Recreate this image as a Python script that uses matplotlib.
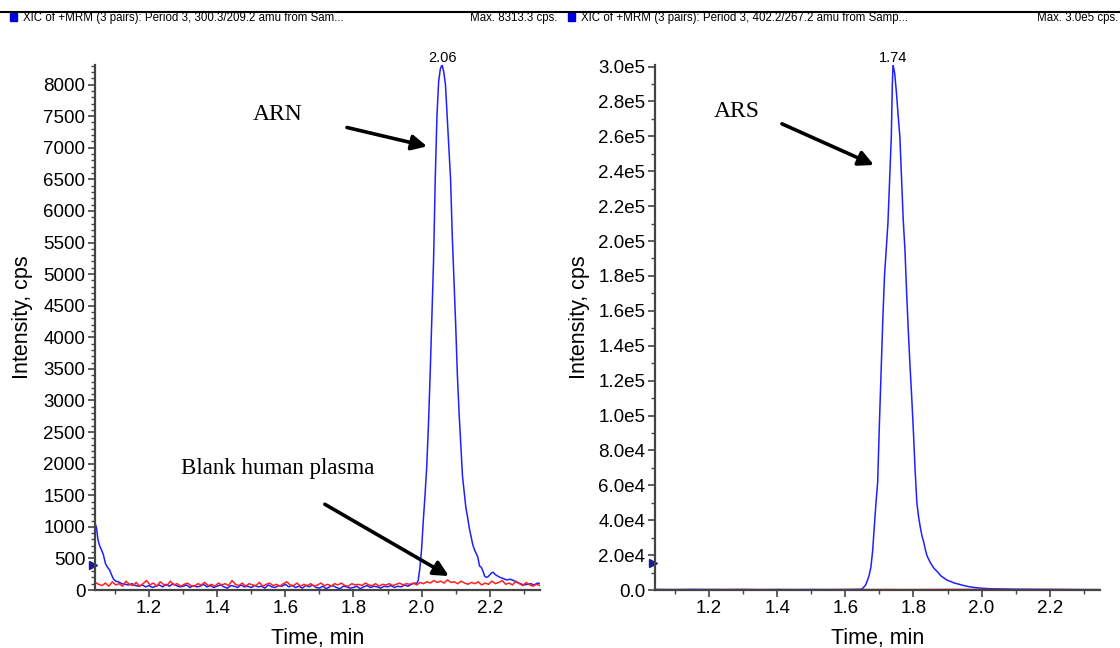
import numpy as np
import matplotlib
matplotlib.use('Agg')
from matplotlib import pyplot as plt
from matplotlib.ticker import MultipleLocator, FuncFormatter
from matplotlib.patches import Rectangle
from matplotlib.lines import Line2D
import matplotlib.transforms as mtrans

plt.rcParams['font.family'] = ['Liberation Sans', 'DejaVu Sans']

# ---- left panel: ARN (300.3/209.2) ----
arn_decay_t = [1.042, 1.046, 1.050, 1.055, 1.060, 1.066, 1.072, 1.078, 1.084, 1.090, 1.096, 1.102, 1.110]
arn_decay_v = [1050, 980, 800, 700, 640, 560, 420, 360, 320, 240, 170, 140, 130]
arn_base_v = [100, 90, 80, 100, 70, 60, 80, 50,
              70, 40, 60, 80, 50, 90, 60, 100, 70, 50,
              60, 80, 40, 70, 50, 60, 90, 50, 70, 40,
              60, 80, 50, 30, 70, 60, 40, 80, 50, 60,
              40, 70, 50, 60, 30, 80, 50, 40, 70, 60,
              90, 50, 70, 40, 60, 30, 70, 50, 80, 40,
              30, 60, 20, 50, 70, 40, 20, 60, 50, 30,
              40, 60, 20, 50, 70, 40, 60, 50, 30, 60,
              50, 70, 40, 60, 50, 80, 60, 90, 110]
arn_peak_t = [1.985, 1.990, 1.995, 2.000, 2.005, 2.010, 2.015, 2.020, 2.025, 2.030,
              2.035, 2.040, 2.045, 2.050, 2.055, 2.060, 2.065, 2.070, 2.075, 2.080,
              2.085, 2.090, 2.095, 2.100, 2.105, 2.110, 2.115, 2.120, 2.125, 2.130,
              2.135, 2.140, 2.145, 2.150, 2.155, 2.160, 2.165, 2.170, 2.175, 2.180,
              2.185, 2.190, 2.195, 2.200, 2.205, 2.210, 2.215, 2.220, 2.230, 2.240,
              2.250, 2.260, 2.270, 2.280, 2.290, 2.300, 2.310, 2.320, 2.330, 2.340, 2.347]
arn_peak_v = [100, 150, 350, 650, 1100, 1500, 1950, 2600, 3400, 4300,
              5200, 6500, 7500, 8050, 8250, 8313, 8200, 8000, 7500, 7000,
              6500, 5600, 4900, 4200, 3400, 2800, 2300, 1800, 1550, 1300,
              1150, 980, 850, 720, 640, 580, 520, 380, 360, 300,
              220, 200, 210, 240, 270, 280, 250, 230, 200, 180,
              160, 170, 150, 120, 100, 80, 90, 100, 80, 110, 100]
blank_left_v = [120, 90, 70, 110, 60, 130, 80, 100, 60, 140, 90,
                70, 120, 60, 100, 150, 80, 110, 60, 130, 90,
                70, 140, 80, 100, 60, 90, 110, 70, 60, 100,
                80, 120, 70, 90, 60, 110, 80, 100, 70, 150,
                90, 70, 110, 60, 100, 80, 70, 120, 60, 90,
                110, 70, 90, 60, 100, 130, 80, 70, 110, 60,
                90, 70, 100, 60, 80, 110, 70, 90, 60, 100,
                80, 110, 70, 60, 100, 80, 90, 70, 110, 80,
                70, 100, 60, 90, 80, 100, 70, 90, 110, 80,
                100, 90, 110, 80, 120, 100, 130, 110, 150, 120,
                140, 110, 160, 120, 130, 100, 140, 110, 90, 120,
                100, 130, 80, 110, 90, 140, 100, 120, 150, 90,
                110, 80, 140, 100, 70, 120, 80, 60, 90, 70]

# ---- right panel: ARS (402.2/267.2) ----
ars_t = [1.042, 1.10, 1.15, 1.20, 1.25, 1.30, 1.35, 1.40, 1.45, 1.50, 1.55, 1.60, 1.645,
         1.650, 1.655, 1.660, 1.665, 1.670, 1.675, 1.680, 1.685, 1.690, 1.695,
         1.700, 1.705, 1.710, 1.715, 1.720, 1.725, 1.730, 1.735, 1.738, 1.740,
         1.745, 1.750, 1.755, 1.760, 1.765, 1.770, 1.775, 1.780, 1.785, 1.790,
         1.795, 1.800, 1.805, 1.810, 1.815, 1.820, 1.825, 1.830, 1.835, 1.840,
         1.845, 1.850, 1.855, 1.860, 1.870, 1.880, 1.890, 1.900, 1.910, 1.920,
         1.930, 1.945, 1.960, 1.980, 2.000, 2.030, 2.060, 2.100, 2.150, 2.200,
         2.250, 2.300, 2.347]
ars_v = [300, 250, 350, 300, 250, 300, 200, 300, 250, 300, 250, 300, 400,
         800, 1800, 3000, 5500, 8500, 13000, 22000, 36000, 50000, 62000,
         95000, 125000, 155000, 180000, 195000, 210000, 235000, 260000, 290000, 301000,
         296000, 285000, 272000, 260000, 236000, 212000, 195000, 170000, 148000, 128000,
         110000, 90000, 68000, 50000, 42000, 36000, 31000, 27500, 23000, 19500,
         17500, 15500, 14000, 12500, 10500, 8200, 6800, 5500, 4800, 4000,
         3500, 2700, 2000, 1400, 1000, 700, 600, 450, 400, 350,
         300, 250, 200]
blank_right_t = [1.042, 1.15, 1.30, 1.45, 1.60, 1.70, 1.80, 1.90, 2.00, 2.10, 2.20, 2.30, 2.347]
blank_right_v = [200, 150, 250, 150, 200, 300, 250, 350, 300, 200, 250, 150, 200]

arn_t = np.concatenate([arn_decay_t, np.linspace(1.12, 1.98, len(arn_base_v)), arn_peak_t])
arn_v = np.concatenate([arn_decay_v, arn_base_v, arn_peak_v])
blank_left_t = np.linspace(1.042, 2.347, len(blank_left_v))

BLUE = '#1f1fff'
RED = '#ff2020'
SPINE = '#444444'

fig = plt.figure(figsize=(11.2, 6.48), dpi=100)
axL = fig.add_axes([0.085, 0.0895, 0.397, 0.8105])
axR = fig.add_axes([0.585, 0.0895, 0.397, 0.8105])


def style_axis(ax):
    for s in ['top', 'right']:
        ax.spines[s].set_visible(False)
    for s in ['left', 'bottom']:
        ax.spines[s].set_color(SPINE)
        ax.spines[s].set_linewidth(1.6)
    ax.set_xlim(1.042, 2.347)
    ax.xaxis.set_major_locator(MultipleLocator(0.2))
    ax.xaxis.set_minor_locator(MultipleLocator(0.1))
    ax.xaxis.set_major_formatter(FuncFormatter(lambda v, p: f'{v:.1f}'))
    ax.tick_params(which='major', length=5, width=1.2, color=SPINE, labelsize=13.5, pad=2)
    ax.tick_params(which='minor', length=3, width=1.0, color=SPINE)
    ax.set_xlabel('Time, min', fontsize=15.5, va='top')
    ax.xaxis.set_label_coords(0.5, -0.072)
    ax.set_ylabel('Intensity, cps', fontsize=15.5)


# left
style_axis(axL)
axL.plot(arn_t, arn_v, color=BLUE, lw=1.1)
axL.plot(blank_left_t, blank_left_v, color=RED, lw=1.1)
axL.set_ylim(0, 8313.3)
axL.yaxis.set_major_locator(MultipleLocator(500))
axL.yaxis.set_minor_locator(MultipleLocator(100))
axL.yaxis.set_label_coords(-0.139, 0.52)
axL.annotate('2.06', xy=(2.06, 8313.3), xytext=(0, 0), textcoords='offset points',
             ha='center', va='bottom', fontsize=10.5, annotation_clip=False)

arrow = dict(arrowstyle='-|>,head_length=0.9,head_width=0.45', lw=2.6, color='black',
             shrinkA=0, shrinkB=0)
serif = ['Liberation Serif', 'DejaVu Serif']
axL.text(1.576, 7527, 'ARN', fontsize=17, family=serif, ha='center', va='center')
axL.annotate('', xy=(2.016, 7022), xytext=(1.781, 7321), arrowprops=arrow)
axL.text(1.579, 1925, 'Blank human plasma', fontsize=16.5, family=serif, ha='center', va='center')
axL.annotate('', xy=(2.080, 221), xytext=(1.716, 1357), arrowprops=arrow)

# right
style_axis(axR)
axR.plot(ars_t, ars_v, color=BLUE, lw=1.1)
axR.plot(blank_right_t, blank_right_v, color=RED, lw=1.1)
axR.set_ylim(0, 3.01e5)
axR.yaxis.set_major_locator(MultipleLocator(2e4))
axR.yaxis.set_minor_locator(MultipleLocator(1e4))


def sci(v, p):
    if v == 0:
        return '0.0'
    e = int(np.floor(np.log10(abs(v)) + 1e-9))
    return f'{v / 10**e:.1f}e{e}'


axR.yaxis.set_major_formatter(FuncFormatter(sci))
axR.yaxis.set_label_coords(-0.146, 0.52)
axR.annotate('1.74', xy=(1.74, 3.01e5), xytext=(0, 0), textcoords='offset points',
             ha='center', va='bottom', fontsize=10.5, annotation_clip=False)
axR.text(1.282, 274100, 'ARS', fontsize=17, family=serif, ha='center', va='center')
axR.annotate('', xy=(1.684, 243560), xytext=(1.414, 267170), arrowprops=arrow)

# small blue markers on the y axes
for ax, yv in [(axL, 395), (axR, 15500)]:
    tr = mtrans.blended_transform_factory(ax.transAxes, ax.transData)
    ax.plot([-0.006], [yv], marker='>', color='#1a1a9a', ms=6, transform=tr, clip_on=False)

# header
fig.add_artist(Line2D([0, 1], [0.981, 0.981], color='black', lw=1.5, transform=fig.transFigure))
for x0, title, mx, xr in [(10, 'XIC of +MRM (3 pairs): Period 3, 300.3/209.2 amu from Sam...',
                           'Max. 8313.3 cps.', 557),
                          (568, 'XIC of +MRM (3 pairs): Period 3, 402.2/267.2 amu from Samp...',
                           'Max. 3.0e5 cps.', 1118)]:
    fig.add_artist(Rectangle((x0 / 1120, 1 - 21 / 648), 7 / 1120, 8 / 648, color='#0000dd',
                             transform=fig.transFigure))
    fig.text((x0 + 13) / 1120, 1 - 18.5 / 648, title, fontsize=8.3, va='center', ha='left')
    fig.text(xr / 1120, 1 - 18.5 / 648, mx, fontsize=8.3, va='center', ha='right')

fig.savefig('out.png', dpi=100)
